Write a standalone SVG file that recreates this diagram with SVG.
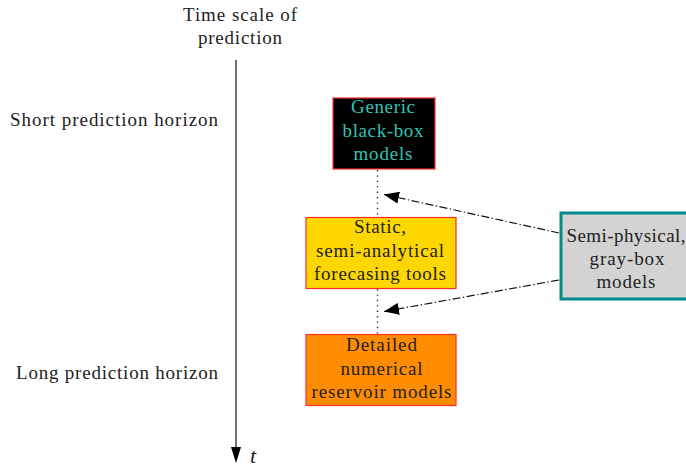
<svg xmlns="http://www.w3.org/2000/svg" width="686" height="467" viewBox="0 0 686 467">
<style>
text{font-family:"Liberation Serif","Times New Roman",serif;font-size:19px;fill:#222;}
.c{text-anchor:middle;}
.e{text-anchor:end;}
.box{stroke:#ff2a2a;stroke-width:1.2;}
.dot{stroke:#333;stroke-width:1.4;stroke-dasharray:1.4 4;fill:none;}
.dd{stroke:#111;stroke-width:1.2;stroke-dasharray:8 2.5 1.3 2.5;fill:none;}
.tl{fill:#33c3b3;}
</style>
<defs>
<marker id="ah" markerWidth="16" markerHeight="12" refX="15" refY="6" orient="auto" markerUnits="userSpaceOnUse">
<path d="M0,0 L15,6 L0,12 Z" fill="#000"/>
</marker>
</defs>
<g id="axis">
<line x1="236" y1="60" x2="236" y2="448" stroke="#111" stroke-width="1.2"/>
<path d="M231,447 L241,447 L236,463 Z" fill="#000"/>
<text x="240" y="20.5" class="c" textLength="114" lengthAdjust="spacing">Time scale of</text>
<text x="240" y="43.5" class="c" textLength="84" lengthAdjust="spacing">prediction</text>
<text x="250" y="463" style="font-style:italic;font-size:22px">t</text>
<text x="218" y="126" class="e" textLength="208" lengthAdjust="spacing">Short prediction horizon</text>
<text x="218" y="378.5" class="e" textLength="202" lengthAdjust="spacing">Long prediction horizon</text>
</g>
<g id="connectors">
<line x1="377.5" y1="170" x2="377.5" y2="217" class="dot"/>
<line x1="377.5" y1="289" x2="377.5" y2="334" class="dot"/>
<line x1="559" y1="233" x2="384" y2="194.5" class="dd" marker-end="url(#ah)"/>
<line x1="559" y1="280" x2="384" y2="311.5" class="dd" marker-end="url(#ah)"/>
</g>
<g id="blackbox">
<rect x="333" y="98" width="102" height="71" fill="#000" class="box"/>
<text x="383" y="113" class="c tl" textLength="64" lengthAdjust="spacing">Generic</text>
<text x="383" y="136.5" class="c tl" textLength="81" lengthAdjust="spacing">black-box</text>
<text x="383" y="160" class="c tl" textLength="59" lengthAdjust="spacing">models</text>
</g>
<g id="static">
<rect x="306" y="217.5" width="150" height="71" fill="#ffd700" class="box"/>
<text x="380" y="233" class="c" textLength="52" lengthAdjust="spacing">Static,</text>
<text x="380" y="256.5" class="c" textLength="128" lengthAdjust="spacing">semi-analytical</text>
<text x="380" y="280" class="c" textLength="132" lengthAdjust="spacing">forecasing tools</text>
</g>
<g id="detailed">
<rect x="306" y="334.5" width="150" height="71" fill="#ff8c00" class="box"/>
<text x="381.5" y="351" class="c" textLength="71" lengthAdjust="spacing">Detailed</text>
<text x="381.5" y="374.5" class="c" textLength="82" lengthAdjust="spacing">numerical</text>
<text x="381.5" y="398" class="c" textLength="140" lengthAdjust="spacing">reservoir models</text>
</g>
<g id="graybox">
<rect x="561" y="213" width="131" height="86" fill="#d3d3d3" stroke="#008b8b" stroke-width="3"/>
<text x="626" y="241.5" class="c" textLength="119" lengthAdjust="spacing">Semi-physical,</text>
<text x="627" y="265" class="c" textLength="75" lengthAdjust="spacing">gray-box</text>
<text x="626" y="288" class="c" textLength="59" lengthAdjust="spacing">models</text>
</g>
</svg>
